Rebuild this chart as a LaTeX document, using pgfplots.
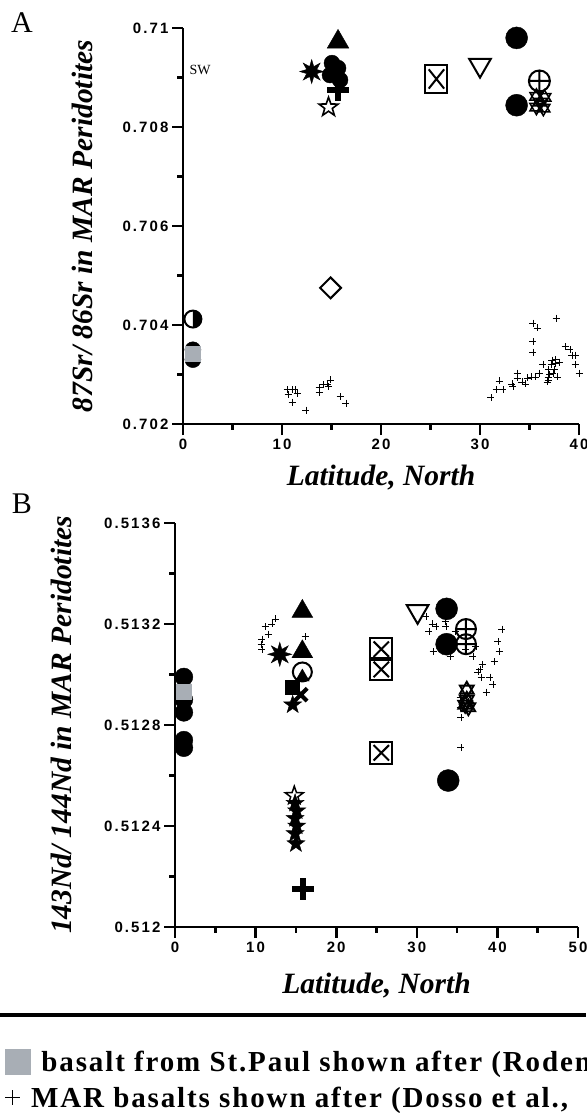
\documentclass[border=0pt]{standalone}
\usepackage{fontspec}
\setmainfont{Liberation Serif}
\setsansfont{Liberation Sans}
\newfontfamily\tickfont{Liberation Sans}[LetterSpace=14]
\newfontfamily\legfont{Liberation Serif}[LetterSpace=6.5]
\usepackage{pgfplots}
\pgfplotsset{compat=1.18}
\usetikzlibrary{plotmarks}
\definecolor{stpaul}{RGB}{168,174,181}
\newcommand\mk[2]{\pgfqpoint{#1\pgfplotmarksize}{#2\pgfplotmarksize}}
\pgfdeclareplotmark{boxx}{%
  \pgfpathrectangle{\mk{-1}{-1}}{\mk{2}{2}}\pgfusepathqstroke
  \pgfpathmoveto{\mk{-0.7}{-0.7}}\pgfpathlineto{\mk{0.7}{0.7}}%
  \pgfpathmoveto{\mk{-0.7}{0.7}}\pgfpathlineto{\mk{0.7}{-0.7}}%
  \pgfusepathqstroke}
\pgfdeclareplotmark{hexagram}{%
  \pgfpathmoveto{\mk{0}{1}}\pgfpathlineto{\mk{-0.866}{-0.5}}\pgfpathlineto{\mk{0.866}{-0.5}}\pgfpathclose
  \pgfpathmoveto{\mk{0}{-1}}\pgfpathlineto{\mk{-0.866}{0.5}}\pgfpathlineto{\mk{0.866}{0.5}}\pgfpathclose
  \pgfusepathqstroke}
\newcommand\starpath{%
  \pgfpathmoveto{\mk{0}{1}}\pgfpathlineto{\mk{-0.235}{0.324}}\pgfpathlineto{\mk{-0.951}{0.309}}%
  \pgfpathlineto{\mk{-0.380}{-0.124}}\pgfpathlineto{\mk{-0.588}{-0.809}}\pgfpathlineto{\mk{0}{-0.4}}%
  \pgfpathlineto{\mk{0.588}{-0.809}}\pgfpathlineto{\mk{0.380}{-0.124}}\pgfpathlineto{\mk{0.951}{0.309}}%
  \pgfpathlineto{\mk{0.235}{0.324}}\pgfpathclose}
\pgfdeclareplotmark{fstar}{\starpath\pgfusepathqfillstroke}
\pgfdeclareplotmark{ostar}{\starpath\pgfusepathqstroke}
\pgfdeclareplotmark{burst}{%
  \pgfpathmoveto{\mk{1}{0}}\pgfpathlineto{\mk{0.416}{0.172}}\pgfpathlineto{\mk{0.707}{0.707}}%
  \pgfpathlineto{\mk{0.172}{0.416}}\pgfpathlineto{\mk{0}{1}}\pgfpathlineto{\mk{-0.172}{0.416}}%
  \pgfpathlineto{\mk{-0.707}{0.707}}\pgfpathlineto{\mk{-0.416}{0.172}}\pgfpathlineto{\mk{-1}{0}}%
  \pgfpathlineto{\mk{-0.416}{-0.172}}\pgfpathlineto{\mk{-0.707}{-0.707}}\pgfpathlineto{\mk{-0.172}{-0.416}}%
  \pgfpathlineto{\mk{0}{-1}}\pgfpathlineto{\mk{0.172}{-0.416}}\pgfpathlineto{\mk{0.707}{-0.707}}%
  \pgfpathlineto{\mk{0.416}{-0.172}}\pgfpathclose\pgfusepathqfillstroke}
\pgfdeclareplotmark{halfr}{%
  \pgfpathmoveto{\mk{0}{1}}\pgfpatharc{90}{-90}{\pgfplotmarksize}\pgfpathclose\pgfusepathqfill
  \pgfpathcircle{\pgfpointorigin}{\pgfplotmarksize}\pgfusepathqstroke}

\pgfplotsset{
  myaxis/.style={
    scale only axis, clip=false,
    axis x line*=bottom, axis y line*=left,
    axis line style={line width=2.6pt,-},
    tick align=outside, major tick length=11pt, minor tick length=6pt,
    every tick/.style={line width=2.6pt,black},
    minor tick num=1,
    ticklabel style={font=\fontsize{15}{15}\selectfont\tickfont\bfseries},
    label style={font=\fontsize{29.5}{29.5}\selectfont\bfseries\itshape},
    only marks, mark options={solid},
  },
  pl/.style={mark=+, mark size=3.5pt, mark options={line width=0.8pt}, black},
}

\begin{document}
\begin{tikzpicture}
\path[use as bounding box] (0pt,0pt) rectangle (586pt,1113pt);
\clip (0pt,0pt) rectangle (586pt,1113pt);
\node[font=\fontsize{30}{30}\selectfont] at (22pt,1090pt) {A};
\node[font=\fontsize{30}{30}\selectfont] at (22pt,609pt) {B};
\draw[line width=4.5pt] (0pt,98pt) -- (586pt,98pt);

% ---------------- Panel A ----------------
\begin{axis}[myaxis, at={(183pt,689pt)}, anchor=south west,
  width=396pt, height=396pt,
  xmin=0, xmax=40, ymin=0.702, ymax=0.710,
  xtick={0,10,20,30,40}, xticklabels={0,10,20,30,40},
  ytick={0.702,0.704,0.706,0.708,0.710},
  yticklabels={0.702,0.704,0.706,0.708,0.71},
  xlabel style={at={(axis description cs:0.5,-0.136)}, anchor=center},
  ylabel style={at={(axis description cs:-0.255,0.5)}, rotate=0, anchor=center},
  xlabel={Latitude, North},
  ylabel={87Sr/ 86Sr in MAR Peridotites},
  legend style={at={(axis description cs:-0.449,-1.61)}, anchor=west, draw=none, fill=none,
    inner sep=0pt, column sep=9pt, font=\fontsize{29}{29}\selectfont\legfont\bfseries},
  legend image code/.code={\draw[mark repeat=2,mark phase=2,#1] plot coordinates {(0pt,0pt) (12pt,0pt) (24pt,0pt)};},
]
\addlegendimage{only marks, mark=square*, mark size=12.5pt, mark options={draw=stpaul, fill=stpaul}}
\addlegendentry{basalt from St.Paul shown after (Roden}

\node[anchor=west, font=\fontsize{14}{14}\selectfont] at (axis cs:0.3,0.70916) {SW};

% MAR basalts (Dosso et al.)
\addplot[pl] table {
10.51 0.70269
11.01 0.70269
11.31 0.70269
10.61 0.70259
11.52 0.70261
11.01 0.70244
12.42 0.70228
13.74 0.70273
13.74 0.70263
14.14 0.70279
14.55 0.70281
14.85 0.70289
14.65 0.70275
15.86 0.70255
16.46 0.70242
31.11 0.70253
31.62 0.70269
31.92 0.70287
32.32 0.70269
33.23 0.70281
33.33 0.70275
33.74 0.70303
33.74 0.70293
34.24 0.70285
34.55 0.70281
34.75 0.70293
35.15 0.70295
35.35 0.70404
35.76 0.70394
35.35 0.70366
35.35 0.70345
35.56 0.70295
35.96 0.70303
36.36 0.70321
36.77 0.70285
36.87 0.70295
37.27 0.70329
37.37 0.70303
37.58 0.70323
37.78 0.70295
37.98 0.70325
37.68 0.70414
38.59 0.70356
39.09 0.70350
39.29 0.70339
39.60 0.70339
39.60 0.70321
40.00 0.70303
36.87 0.70289
36.90 0.70310
37.20 0.70320
37.50 0.70310
37.00 0.70300
37.60 0.70330
};
% filled circles
\addplot[black, mark=*, mark size=11pt] coordinates {(33.7,0.7098) (33.7,0.70844)};
\addplot[black, mark=*, mark size=8pt] coordinates {(15.05,0.70929) (15.66,0.70919) (14.85,0.70905) (15.86,0.70895)};
\addplot[black, mark=*, mark size=8pt] coordinates {(1.0,0.70350) (1.0,0.70330)};
% starburst
\addplot[black, mark=burst, mark size=12pt] coordinates {(13.0,0.70912)};
% filled triangle
\addplot[black, mark=triangle*, mark size=12.5pt] coordinates {(15.66,0.70972)};
% big cross
\addplot[black, mark=+, mark size=11pt, mark options={line width=6pt}] coordinates {(15.7,0.70875)};
% open star
\addplot[black, mark=ostar, mark size=10pt, mark options={line width=1.6pt}] coordinates {(14.7,0.7084)};
% crossed square
\addplot[black, mark=boxx, mark size=11pt, mark options={line width=2pt, yscale=1.25}] coordinates {(25.6,0.70897)};
% open down triangle
\addplot[black, mark=triangle, mark size=12.5pt, mark options={line width=2pt, rotate=180}] coordinates {(30.0,0.70925)};
% circle with cross
\addplot[black, mark=oplus, mark size=10.5pt, mark options={line width=2pt}] coordinates {(36.0,0.70893)};
% hexagrams
\addplot[black, mark=hexagram, mark size=7.5pt, mark options={line width=1.5pt}] coordinates {(35.7,0.70862) (36.5,0.70860) (36.1,0.70850) (35.7,0.70840) (36.4,0.70838)};
% half-filled circle
\addplot[black, mark=halfr, mark size=8.5pt, mark options={line width=2pt}] coordinates {(1.0,0.70412)};
% St Paul basalt
\addplot[stpaul, mark=square*, mark size=7.5pt, mark options={draw=stpaul, fill=stpaul}] coordinates {(1.0,0.70343)};
% open diamond
\addplot[black, mark=square, mark size=7.4pt, mark options={line width=2pt, rotate=45}] coordinates {(14.9,0.70475)};
\end{axis}

% ---------------- Panel B ----------------
\begin{axis}[myaxis, at={(175pt,186pt)}, anchor=south west,
  width=403pt, height=404pt,
  xmin=0, xmax=50, ymin=0.512, ymax=0.5136,
  xtick={0,10,20,30,40,50}, xticklabels={0,10,20,30,40,50},
  ytick={0.512,0.5124,0.5128,0.5132,0.5136},
  yticklabels={0.512,0.5124,0.5128,0.5132,0.5136},
  xlabel style={at={(axis description cs:0.5,-0.144)}, anchor=center},
  ylabel style={at={(axis description cs:-0.283,0.5)}, rotate=0, anchor=center},
  xlabel={Latitude, North},
  ylabel={143Nd/ 144Nd in MAR Peridotites},
  legend style={at={(axis description cs:-0.422,-0.423)}, anchor=west, draw=none, fill=none,
    inner sep=0pt, column sep=9pt, font=\fontsize{29}{29}\selectfont\legfont\bfseries},
  legend image code/.code={\draw[mark repeat=2,mark phase=2,#1] plot coordinates {(0pt,0pt) (12pt,0pt) (24pt,0pt)};},
]
\addlegendimage{only marks, mark=+, mark size=7.5pt, mark options={line width=0.8pt}}
\addlegendentry{MAR basalts shown after (Dosso et al.,}

\addplot[pl] table {
12.41 0.51322
12.03 0.51320
11.17 0.51319
11.54 0.51316
10.79 0.51314
10.67 0.51312
10.79 0.51310
16.13 0.51315
31.14 0.51323
31.89 0.51320
32.38 0.51319
31.51 0.51317
33.50 0.51321
33.62 0.51319
34.74 0.51317
32.01 0.51309
34.12 0.51307
36.97 0.51307
37.34 0.51311
40.57 0.51318
40.07 0.51313
40.20 0.51309
39.58 0.51305
38.09 0.51304
37.84 0.51302
37.59 0.51301
37.97 0.51299
39.08 0.51299
39.45 0.51296
38.59 0.51293
35.36 0.51291
35.36 0.51287
35.48 0.51283
35.48 0.51271
36.10 0.51310
};
% left column circles
\addplot[black, mark=*, mark size=9pt] coordinates {(1.1,0.51299) (1.1,0.51290) (1.1,0.51285) (1.1,0.51274) (1.1,0.51271)};
\addplot[stpaul, mark=square*, mark size=7.5pt, mark options={draw=stpaul, fill=stpaul}] coordinates {(1.1,0.51293)};
% filled triangles
\addplot[black, mark=triangle*, mark size=12pt] coordinates {(15.8,0.51325) (15.8,0.51309)};
% starburst
\addplot[black, mark=burst, mark size=12pt] coordinates {(13.0,0.51308)};
% open circle with triangle
\addplot[black, mark=o, mark size=9.5pt, mark options={line width=2pt}] coordinates {(15.8,0.51301)};
\addplot[black, mark=triangle*, mark size=8pt] coordinates {(15.8,0.51299)};
% hatched square
\addplot[black, mark=square*, mark size=7pt] coordinates {(14.5,0.51295)};
% bold X
\addplot[black, mark=x, mark size=9pt, mark options={line width=4pt}] coordinates {(15.6,0.51292)};
% filled stars
\addplot[black, mark=fstar, mark size=9.5pt] coordinates {(14.6,0.51288) (14.9,0.51249) (15.1,0.51246) (14.9,0.51243) (15.1,0.51240) (14.9,0.51237) (15.0,0.51233)};
% open star
\addplot[black, mark=ostar, mark size=9.5pt, mark options={line width=1.5pt, fill=white}] coordinates {(14.8,0.51252)};
% big cross
\addplot[black, mark=+, mark size=11pt, mark options={line width=6pt}] coordinates {(15.9,0.51215)};
% crossed squares
\addplot[black, mark=boxx, mark size=11pt, mark options={line width=2pt}] coordinates {(25.6,0.51310) (25.6,0.51302) (25.6,0.51269)};
% open down triangle
\addplot[black, mark=triangle, mark size=12.5pt, mark options={line width=2pt, rotate=180}] coordinates {(30.1,0.51325)};
% filled circles
\addplot[black, mark=*, mark size=11pt] coordinates {(33.7,0.51326) (33.7,0.51312) (33.9,0.51258)};
% circles with cross
\addplot[black, mark=oplus, mark size=10pt, mark options={line width=2pt}] coordinates {(36.1,0.51318) (36.1,0.51312)};
% hexagrams
\addplot[black, mark=hexagram, mark size=8pt, mark options={line width=1.8pt}] coordinates {(36.2,0.51294) (36.2,0.51290) (36.0,0.51288) (36.4,0.51287)};
\end{axis}
\end{tikzpicture}
\end{document}
